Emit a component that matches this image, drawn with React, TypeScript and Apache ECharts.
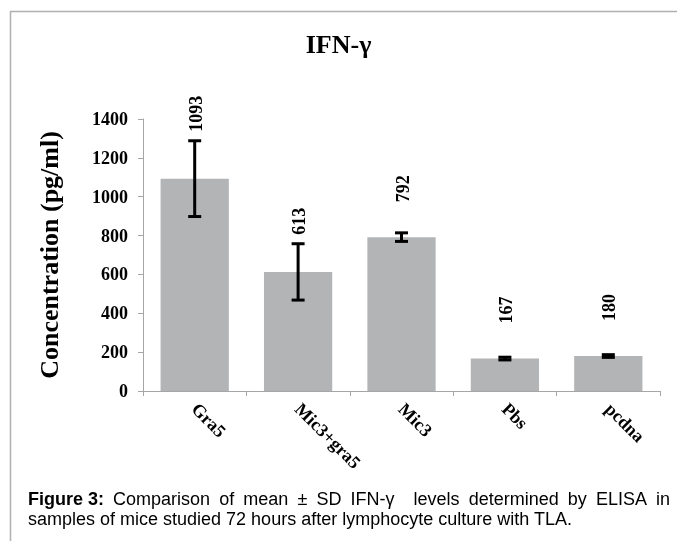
import React, { useEffect, useRef } from "react";
import * as echarts from "echarts";

const categories = ["Gra5", "Mic3+gra5", "Mic3", "Pbs", "pcdna"];
const means = [1093, 613, 792, 167, 180];
const sds = [195, 145, 22, 7, 7];
const yTicks = { min: 0, max: 1400, interval: 200 };
const titleText = "IFN-γ";
const yAxisName = "Concentration (pg/ml)";
const captionBold = "Figure 3:";
const captionLine1 = ["Comparison", "of", "mean", "±", "SD", "IFN-γ  ", "levels", "determined", "by", "ELISA", "in"];
const captionLine2 = "samples of mice studied 72 hours after lymphocyte culture with TLA.";

const SERIF = '"Liberation Serif", "Times New Roman", serif';
const SANS = '"Liberation Sans", Arial, sans-serif';

function measure(text: string, font: string): number {
  const c = document.createElement("canvas");
  const ctx = c.getContext("2d");
  if (!ctx) return text.length * 9;
  ctx.font = font;
  return ctx.measureText(text).width;
}

export default function App() {
  const ref = useRef<HTMLDivElement>(null);
  useEffect(() => {
    if (!ref.current) return;
    const chart = echarts.init(ref.current, null, { renderer: "svg" });

    const fs = 18;
    const boldFont = `bold ${fs}px ${SANS}`;
    const regFont = `${fs}px ${SANS}`;
    const left = 28;
    const right = 670;
    const tokens = [{ t: captionBold, bold: true }, ...captionLine1.map((t) => ({ t, bold: false }))];
    const widths = tokens.map((k) => measure(k.t, k.bold ? boldFont : regFont));
    const total = widths.reduce((a, b) => a + b, 0);
    const gap = (right - left - total) / (tokens.length - 1);
    let cx = left;
    const line1Els: any[] = tokens.map((k, i) => {
      const el = {
        type: "text",
        x: cx,
        y: 490,
        style: {
          text: k.t,
          fill: "#000",
          font: k.bold ? boldFont : regFont,
          align: "left",
          verticalAlign: "top",
        },
      };
      cx += widths[i] + gap;
      return el;
    });

    const errData = categories.map((c, i) => [i, means[i], sds[i]]);

    chart.setOption({
      animation: false,
      title: {
        text: titleText,
        left: "center",
        top: 26,
        textStyle: { fontFamily: SERIF, fontWeight: "bold", fontSize: 26, color: "#000" },
      },
      grid: { left: 143, right: 17, top: 119, bottom: 150 },
      xAxis: {
        type: "category",
        data: categories,
        axisLine: { lineStyle: { color: "#a6a6a6", width: 1 } },
        axisTick: { show: true, length: 5, lineStyle: { color: "#a6a6a6" } },
        axisLabel: {
          rotate: -45,
          margin: 15,
          color: "#000",
          fontFamily: SERIF,
          fontWeight: "bold",
          fontSize: 18,
        },
      },
      yAxis: {
        type: "value",
        min: yTicks.min,
        max: yTicks.max,
        interval: yTicks.interval,
        name: yAxisName,
        nameLocation: "middle",
        nameGap: 81,
        nameTextStyle: { fontFamily: SERIF, fontWeight: "bold", fontSize: 26, color: "#000" },
        splitLine: { show: false },
        axisLine: { show: true, lineStyle: { color: "#a6a6a6", width: 1 } },
        axisTick: { show: true, length: 5, lineStyle: { color: "#a6a6a6" } },
        axisLabel: {
          margin: 15,
          color: "#000",
          fontFamily: SERIF,
          fontWeight: "bold",
          fontSize: 18,
          formatter: (v: number) => String(v),
        },
      },
      series: [
        {
          type: "bar",
          data: means,
          barWidth: "66%",
          itemStyle: { color: "#b2b4b6" },
        },
        {
          type: "custom",
          data: errData,
          encode: { x: 0, y: 1 },
          z: 10,
          renderItem: (params: any, api: any) => {
            const i = api.value(0);
            const m = api.value(1);
            const s = api.value(2);
            const top = api.coord([i, m + s]);
            const bot = api.coord([i, m - s]);
            const bar = api.coord([i, m]);
            const x = top[0];
            const cap = 6.5;
            const st = { stroke: "#000", lineWidth: 3 };
            const labelY = Math.min(bar[1] - 35, top[1] - 9);
            return {
              type: "group",
              children: [
                { type: "line", shape: { x1: x, y1: top[1], x2: x, y2: bot[1] }, style: st },
                { type: "line", shape: { x1: x - cap, y1: top[1], x2: x + cap, y2: top[1] }, style: st },
                { type: "line", shape: { x1: x - cap, y1: bot[1], x2: x + cap, y2: bot[1] }, style: st },
                {
                  type: "text",
                  x: x + 1,
                  y: labelY,
                  rotation: Math.PI / 2,
                  style: {
                    text: String(m),
                    fill: "#000",
                    font: `bold 18px ${SERIF}`,
                    align: "left",
                    verticalAlign: "middle",
                  },
                },
              ],
            };
          },
        },
      ],
      graphic: [
        {
          type: "polyline",
          shape: { points: [[10.5, 541], [10.5, 11.5], [677, 11.5]] },
          style: { stroke: "#b0b0b0", lineWidth: 1.5, fill: "none" },
          silent: true,
        },
        ...line1Els,
        {
          type: "text",
          x: left,
          y: 510,
          style: { text: captionLine2, fill: "#000", font: regFont, align: "left", verticalAlign: "top" },
        },
      ],
    });
    return () => chart.dispose();
  }, []);
  return <div ref={ref} style={{ position: "fixed", left: 0, top: 0, width: 677, height: 541 }} />;
}
